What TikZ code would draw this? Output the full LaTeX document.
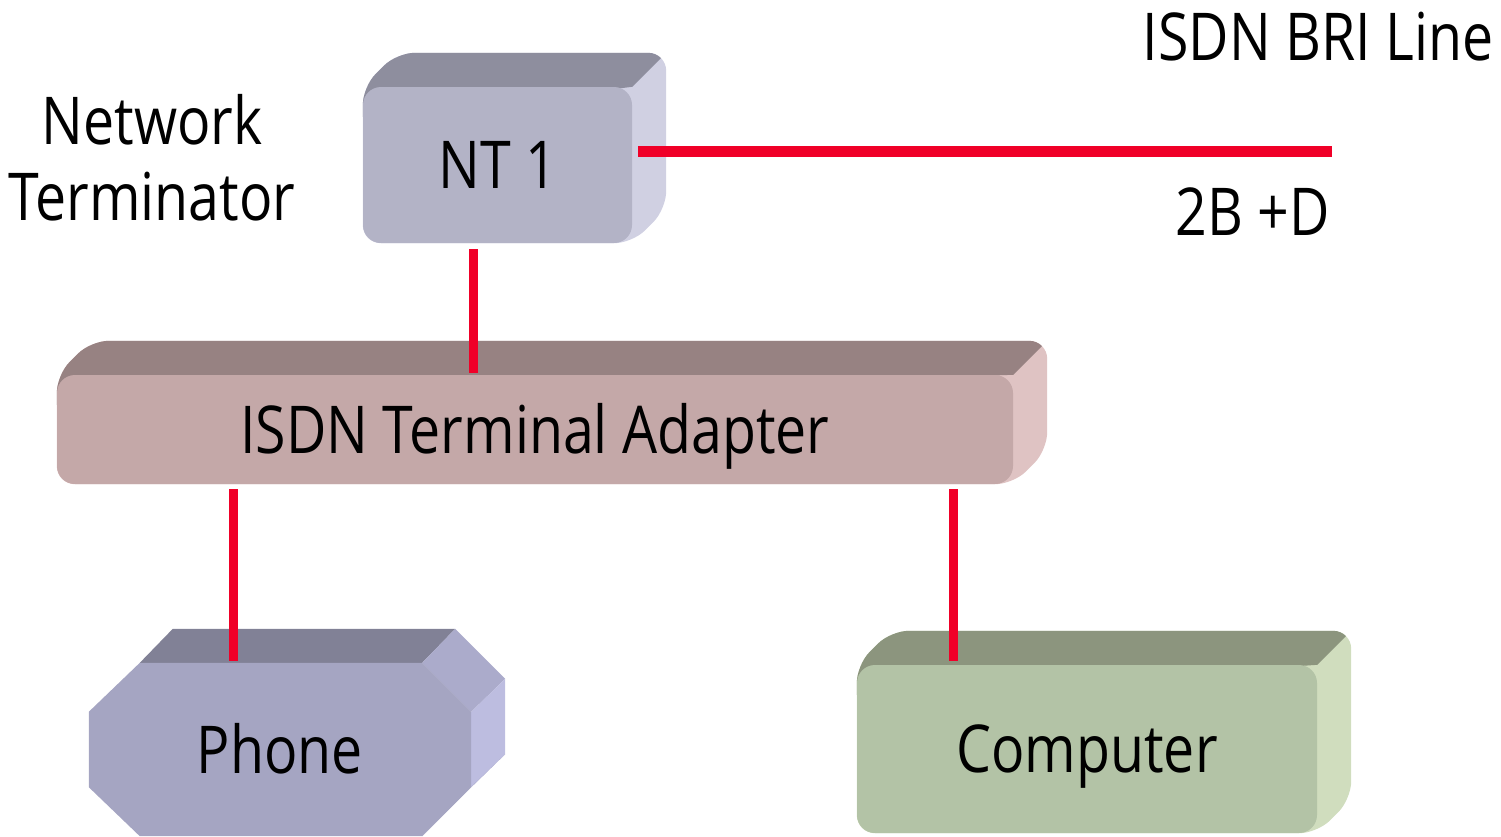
\documentclass[tikz,border=0pt]{standalone}
\usepackage{fontspec}
\setmainfont[FakeStretch=0.84]{Open Sans}
\usetikzlibrary{backgrounds, calc}
\definecolor{linkred}{HTML}{F00028}
\definecolor{ntfront}{HTML}{B3B3C6}
\definecolor{nttop}{HTML}{8E8E9E}
\definecolor{ntside}{HTML}{D0D0E2}
\definecolor{tafront}{HTML}{C4A8A8}
\definecolor{tatop}{HTML}{978282}
\definecolor{taside}{HTML}{DFC3C3}
\definecolor{phfront}{HTML}{A5A5C2}
\definecolor{phtop}{HTML}{818196}
\definecolor{phfacet}{HTML}{ABABCB}
\definecolor{phside}{HTML}{BDBDE0}
\definecolor{pcfront}{HTML}{B3C3A6}
\definecolor{pctop}{HTML}{8C957E}
\definecolor{pcside}{HTML}{D0DDBE}
\newcommand\bigtext{\fontsize{66}{76}\selectfont}
\tikzset{
  box/.style = {rectangle, rounded corners=18pt, inner sep=0pt, text height=47pt, text depth=0pt, font=\bigtext},
  link/.style = {draw=linkred, line width=9pt},
  txt/.style = {inner sep=0pt, font=\bigtext}
}
% outline of a front node pushed back by the depth
\newcommand\hullpath[1]{(#1.south west) -- (#1.north west) -- ($(#1.north west)+(34,-34)$)
  -- ($(#1.north east)+(34,-34)$) -- ($(#1.south east)+(34,-34)$) -- (#1.south east) -- cycle}
% top and right faces behind a front node: node, top colour, side colour
\newcommand\extrude[3]{%
  \begin{scope}[on background layer, rounded corners=18pt]
    \fill[#3] \hullpath{#1};
    \begin{scope}
      \clip \hullpath{#1};
      \fill[#2, sharp corners] (#1.north east) -- ++(80,-80) -- ($(#1.north west)+(-80,-80)$)
        -- ($(#1.north west)+(-80,30)$) -- ($(#1.north west)+(30,30)$) -- cycle;
    \end{scope}
  \end{scope}}

\begin{document}
\begin{tikzpicture}[x=1pt, y=-1pt]
    \useasboundingbox (0,0) rectangle (1501,836);

    % Devices
    \node[box, fill=ntfront, minimum width=269, minimum height=156] (nt) at (497.5,165) {NT 1};
    \node[box, fill=tafront, minimum width=956, minimum height=109] (ta) at (535,429.5) {ISDN Terminal Adapter};
    \node[box, rounded corners=0pt, minimum width=382, minimum height=173] (phone) at (280,749.5) {Phone};
    \node[box, fill=pcfront, minimum width=460, minimum height=168] (pc) at (1087,749) {Computer};
    \extrude{nt}{nttop}{ntside}
    \extrude{ta}{tatop}{taside}
    \extrude{pc}{pctop}{pcside}

    % Phone body (octagonal prism)
    \begin{scope}[on background layer]
      \coordinate (pa) at ($(phone.north west)+(51,0)$);
      \coordinate (pb) at ($(phone.north east)+(-49,0)$);
      \coordinate (pc1) at ($(phone.north east)+(0,49)$);
      \coordinate (pd) at ($(phone.south east)+(0,-49)$);
      \coordinate (pe) at ($(phone.south east)+(-49,0)$);
      \fill[phtop] (pa) -- ++(33,-34) -- ($(pb)+(33,-34)$) -- (pb) -- cycle;
      \fill[phfacet] (pb) -- ++(33,-34) -- ($(pc1)+(34,-33)$) -- (pc1) -- cycle;
      \fill[phside] (pc1) -- ++(34,-33) -- ($(pd)+(34,-33)$) -- (pd) -- cycle;
      \fill[phfacet] (pd) -- ++(34,-33) -- ($(pe)+(33,-34)$) -- (pe) -- cycle;
      \fill[phfront] (pa) -- (pb) -- (pc1) -- (pd) -- (pe)
        -- ($(phone.south west)+(51,0)$) -- ($(phone.south west)+(0,-49)$)
        -- ($(phone.north west)+(0,49)$) -- cycle;
    \end{scope}

    % Labels
    \node[txt, align=center] (ntlabel) at (152,158) {Network\\Terminator};
    \node[txt, anchor=base] (brilabel) at (1318,60) {ISDN BRI Line};
    \node[txt, anchor=base] (chan) at (1253,235) {2B +D};
    \coordinate (bri) at (1332,151);

    % Lines
    \path [link, line width=11pt] ([shift={(6,-14)}]nt.east) -- (bri);
    \path [link] ($(nt.south)+(-24,6)$) -- ($(nt.south |- ta.north)+(-24,-2)$);
    \path [link] ($(phone.north |- ta.south)+(-47,5)$) -- ($(phone.north)+(-47,-2)$);
    \path [link] ($(pc.north |- ta.south)+(-134,5)$) -- ($(pc.north)+(-134,-4)$);

\end{tikzpicture}
\end{document}
